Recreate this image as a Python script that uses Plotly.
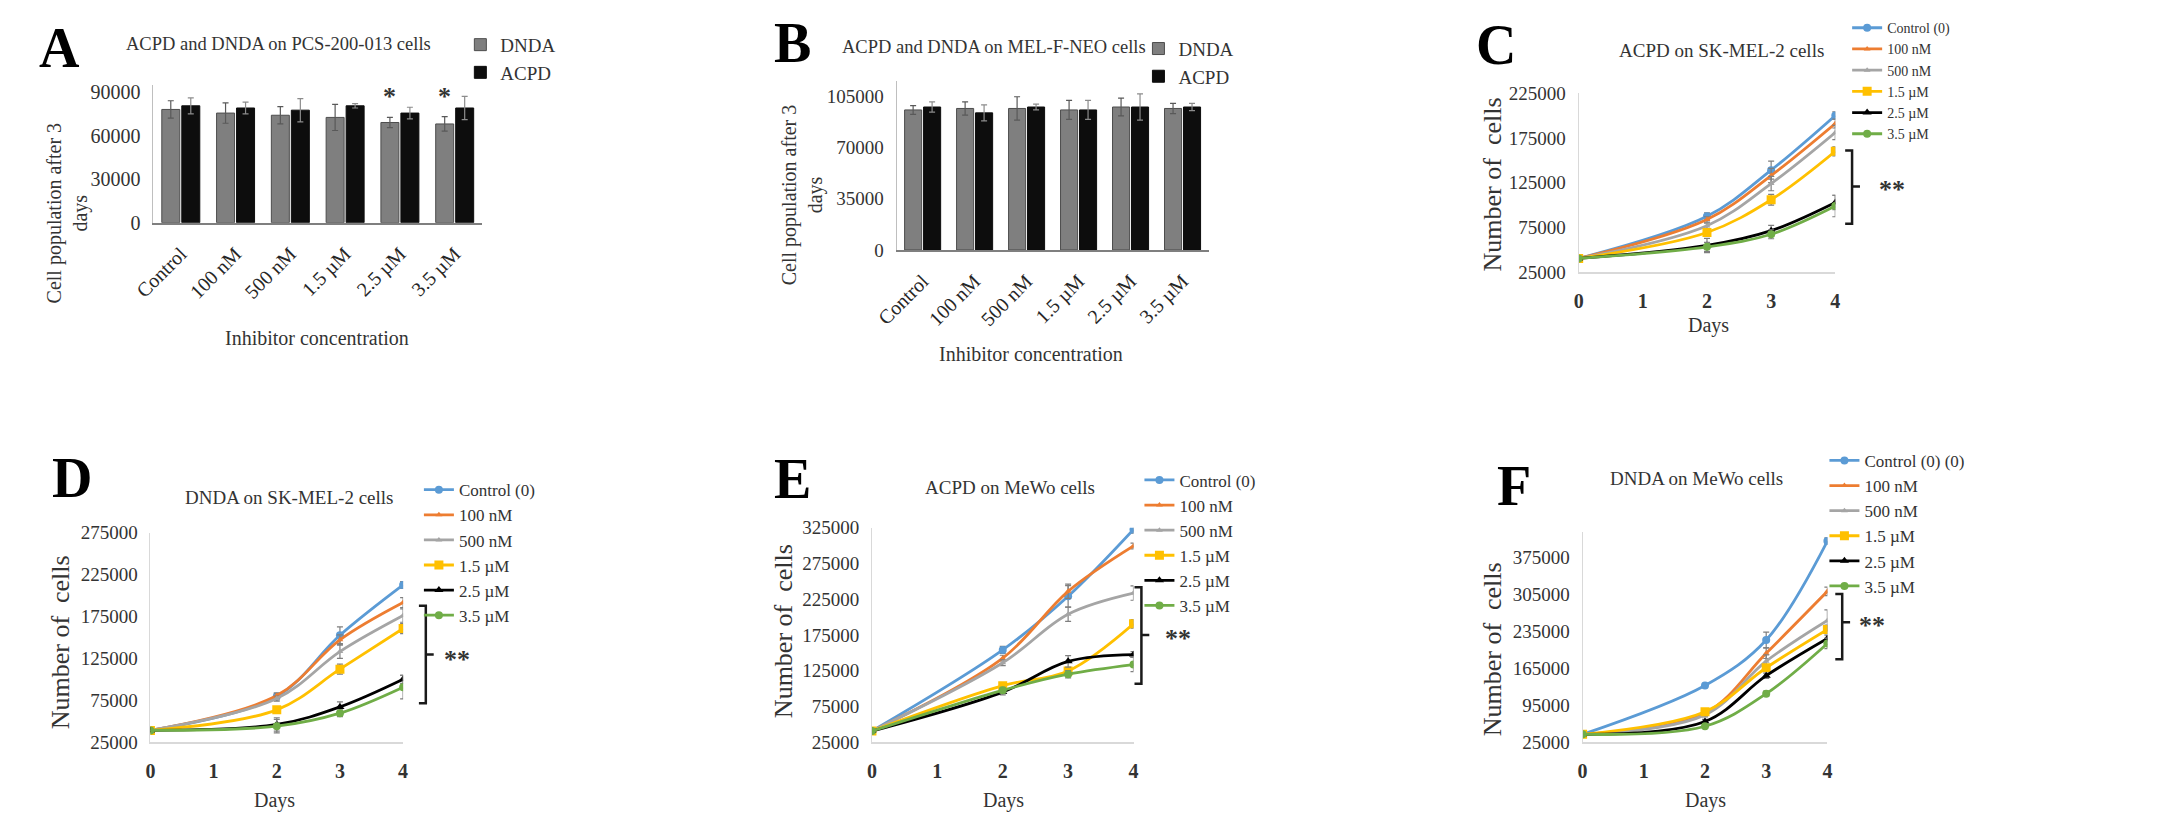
import plotly.graph_objects as go

W, H = 2159, 826
FONT = "Liberation Serif"
TXT = "#333333"

# ---------------- data ----------------
conc_labels = ["Control", "100 nM", "500 nM", "1.5 µM", "2.5 µM", "3.5 µM"]

a_dnda = [78000, 75500, 74000, 72500, 69000, 68000]
a_dnda_err = [6000, 7000, 6000, 9000, 3500, 5000]
a_acpd = [80500, 79000, 77500, 80500, 75500, 79000]
a_acpd_err = [5500, 4000, 8000, 1500, 4000, 8000]

b_dnda = [95500, 96500, 96500, 95500, 97500, 96500]
b_dnda_err = [3000, 4500, 8000, 6500, 6000, 3500]
b_acpd = [97500, 93500, 97500, 95500, 97500, 97500]
b_acpd_err = [3500, 5500, 2000, 6500, 9000, 2500]

days = [0, 2, 3, 4]
day_ticks = [0, 1, 2, 3, 4]
series_names = ["Control (0)", "100 nM", "500 nM", "1.5 µM", "2.5 µM", "3.5 µM"]

c_vals = [
    [40500, 87500, 139000, 200000],
    [40500, 84000, 133000, 191000],
    [40500, 77000, 124000, 181000],
    [40500, 69500, 106000, 160000],
    [40500, 55000, 71500, 103000],
    [40500, 53500, 67500, 99000],
]
c_err = [
    [0, 4000, 10000, 4000],
    [0, 3000, 8000, 5000],
    [0, 3000, 8000, 8000],
    [0, 4000, 6000, 5000],
    [0, 8000, 6000, 8000],
    [0, 5000, 5000, 12000],
]

d_vals = [
    [39000, 79500, 152500, 212500],
    [39000, 80500, 147000, 191500],
    [39000, 77000, 133000, 176000],
    [39000, 63500, 112000, 160500],
    [39000, 46000, 67000, 100000],
    [39000, 44000, 59500, 90500],
]
d_err = [
    [0, 4000, 10000, 4000],
    [0, 3000, 6000, 6000],
    [0, 3000, 8000, 8000],
    [0, 4000, 6000, 6000],
    [0, 8000, 6000, 5000],
    [0, 8000, 4000, 14000],
]

e_vals = [
    [40500, 154000, 229000, 322500],
    [40500, 142500, 236000, 299500],
    [40500, 136000, 204000, 233500],
    [40500, 104000, 124500, 190500],
    [40500, 95000, 138000, 147500],
    [40500, 97500, 120000, 133500],
]
e_err = [
    [0, 5000, 15000, 5000],
    [0, 4000, 10000, 4000],
    [0, 4000, 10000, 10000],
    [0, 4000, 4000, 6000],
    [0, 4000, 8000, 4000],
    [0, 4000, 5000, 10000],
]

f_vals = [
    [39700, 132000, 218000, 405000],
    [39700, 80000, 193000, 310000],
    [39700, 76500, 178000, 255000],
    [39700, 82500, 165500, 238000],
    [39700, 64000, 150500, 221000],
    [39700, 55000, 116500, 211500],
]
f_err = [
    [0, 4000, 15000, 6000],
    [0, 4000, 10000, 8000],
    [0, 4000, 12000, 20000],
    [0, 5000, 6000, 8000],
    [0, 4000, 5000, 6000],
    [0, 4000, 5000, 10000],
]

line_colors = ["#5B9BD5", "#ED7D31", "#A5A5A5", "#FFC000", "#000000", "#70AD47"]
line_symbols = ["circle", "triangle-up", "triangle-up", "square", "triangle-up", "circle"]
line_msizes = [8, 6, 6, 9, 8, 8]


def px(x):
    return x / W


def py(y):
    return 1 - y / H


fig = go.Figure()

# ---------------- bar panels ----------------
for (dn, dne, ac, ace, xa, ya, lg) in [
    (a_dnda, a_dnda_err, a_acpd, a_acpd_err, "x", "y", "legend"),
    (b_dnda, b_dnda_err, b_acpd, b_acpd_err, "x2", "y2", "legend2"),
]:
    fig.add_trace(go.Bar(
        x=conc_labels, y=dn, name="DNDA", xaxis=xa, yaxis=ya, legend=lg,
        legendgroup="dn" + xa,
        marker=dict(color="#7f7f7f", line=dict(color="#4d4d4d", width=1)),
        error_y=dict(type="data", array=dne, color="#595959", thickness=1.2, width=3),
    ))
    fig.add_trace(go.Bar(
        x=conc_labels, y=ac, name="ACPD", xaxis=xa, yaxis=ya, legend=lg,
        legendgroup="ac" + xa,
        marker=dict(color="#0d0d0d", line=dict(color="#0d0d0d", width=1)),
        error_y=dict(type="data", array=ace, color="#8c8c8c", thickness=1.2, width=3),
    ))

# ---------------- line panels ----------------
for vals, errs, xa, ya, lg in [
    (c_vals, c_err, "x3", "y3", "legend3"),
    (d_vals, d_err, "x4", "y4", "legend4"),
    (e_vals, e_err, "x5", "y5", "legend5"),
    (f_vals, f_err, "x6", "y6", "legend6"),
]:
    for i, name in enumerate(series_names):
        nm = name
        if lg == "legend6" and i == 0:
            nm = "Control (0) (0)"
        fig.add_trace(go.Scatter(
            x=days, y=vals[i], name=nm, xaxis=xa, yaxis=ya, legend=lg,
            mode="lines+markers",
            line=dict(color=line_colors[i], width=2.8, shape="spline", smoothing=1.0),
            marker=dict(symbol=line_symbols[i], size=line_msizes[i], color=line_colors[i]),
            error_y=dict(type="data", array=errs[i], color="#7f7f7f", thickness=1.2, width=3),
        ))


# ---------------- axes ----------------
def yaxis(dom_top, dom_bot, rng, tickvals, anchor, lc="#bfbfbf", size=19):
    return dict(domain=[py(dom_bot), py(dom_top)], range=rng, anchor=anchor,
                tickvals=tickvals, ticktext=[str(v) for v in tickvals],
                showgrid=False, zeroline=False, showline=True, linecolor=lc, linewidth=1,
                ticks="", tickfont=dict(family=FONT, size=size, color=TXT),
                ticklabelstandoff=8, fixedrange=True)


def xaxis_lin(x0, x1, anchor):
    return dict(domain=[px(x0), px(x1)], range=[0, 4], anchor=anchor,
                tickvals=day_ticks, ticktext=[f"<b>{d}</b>" for d in day_ticks],
                showgrid=False, zeroline=False,
                showline=True, linecolor="#d9d9d9", linewidth=1.5, ticks="",
                tickfont=dict(family=FONT, size=20, color=TXT), ticklabelstandoff=10)


def xaxis_cat(x0, x1, anchor):
    return dict(domain=[px(x0), px(x1)], anchor=anchor, type="category",
                showgrid=False, zeroline=False, showline=True, linecolor="#7f7f7f",
                linewidth=1.5, ticks="", tickangle=-45,
                tickfont=dict(family=FONT, size=20, color="#262626"), ticklabelstandoff=10)


fig.update_layout(
    xaxis=xaxis_cat(124, 457, "y"),
    yaxis=yaxis(68.5, 210, [0, 95000], [0, 30000, 60000, 90000], "x", size=20),
    xaxis2=xaxis_cat(877, 1193, "y2"),
    yaxis2=yaxis(65, 238, [0, 115000], [0, 35000, 70000, 105000], "x2"),
    xaxis3=xaxis_lin(1568, 1828, "y3"),
    yaxis3=yaxis(77, 261, [25000, 225000], [25000, 75000, 125000, 175000, 225000], "x3", lc="#d9d9d9"),
    xaxis4=xaxis_lin(121, 377, "y4"),
    yaxis4=yaxis(528, 743, [25000, 275000], [25000, 75000, 125000, 175000, 225000, 275000], "x4", lc="#d9d9d9"),
    xaxis5=xaxis_lin(852, 1117, "y5"),
    yaxis5=yaxis(523, 743, [25000, 325000], [25000, 75000, 125000, 175000, 225000, 275000, 325000], "x5", lc="#d9d9d9"),
    xaxis6=xaxis_lin(1572, 1820, "y6"),
    yaxis6=yaxis(527, 743, [25000, 422800], [25000, 95000, 165000, 235000, 305000, 375000], "x6", lc="#d9d9d9"),
)


def legend(x, y, size, gap=0):
    return dict(x=px(x), y=py(y), xanchor="left", yanchor="top", bgcolor="rgba(0,0,0,0)",
                font=dict(family=FONT, size=size, color=TXT), itemwidth=30,
                tracegroupgap=gap, traceorder="normal", borderwidth=0)


fig.update_layout(
    width=W, height=H, margin=dict(l=0, r=0, t=0, b=0),
    paper_bgcolor="white", plot_bgcolor="white",
    barmode="group", bargap=0.27, bargroupgap=0.1,
    showlegend=True,
    legend=legend(435, 8, 19, gap=18),
    legend2=legend(1122, 12, 19, gap=6),
    legend3=legend(1840, -6, 14),
    legend4=legend(393, 466, 17),
    legend5=legend(1123, 456, 17),
    legend6=legend(1817, 436, 17),
)

ann = []


def txt(x, y, t, size, angle=0, color=TXT):
    ann.append(dict(x=px(x), y=py(y), xref="paper", yref="paper", text=t, showarrow=False,
                    xanchor="center", yanchor="middle", textangle=angle,
                    font=dict(family=FONT, size=size, color=color)))


# panel letters
for (x, y, t) in [(29, 31, "A"), (772, 26, "B"), (1484, 28, "C"),
                  (42, 472, "D"), (771, 473, "E"), (1502, 480, "F")]:
    txt(x, y, "<b>" + t + "</b>", 56, color="#000000")

# panel titles
txt(251, 27, "ACPD and DNDA on PCS-200-013 cells", 18.5)
txt(976, 30, "ACPD and DNDA on MEL-F-NEO cells", 18.5)
txt(1713, 33, "ACPD on SK-MEL-2 cells", 19)
txt(261, 492, "DNDA on SK-MEL-2 cells", 19)
txt(992, 482, "ACPD on MeWo cells", 19)
txt(1687, 472, "DNDA on MeWo cells", 19)

# y titles
txt(37, 200, "Cell population after 3<br>days", 20, angle=-90)
txt(782, 181, "Cell population after 3<br>days", 20, angle=-90)
txt(1481, 171, "Number of  cells", 26, angle=-90)
txt(30, 641, "Number of  cells", 26, angle=-90)
txt(762, 629, "Number of  cells", 26, angle=-90)
txt(1481, 648, "Number of  cells", 26, angle=-90)

# x titles
txt(290, 328, "Inhibitor concentration", 20)
txt(1013, 345, "Inhibitor concentration", 20)
txt(1700, 316, "Days", 20)
txt(247, 803, "Days", 20)
txt(985, 803, "Days", 20)
txt(1696, 803, "Days", 20)

# single stars above DNDA bars (panel A)
for i in [4, 5]:
    ann.append(dict(x=conc_labels[i], y=a_dnda[i] + a_dnda_err[i], xref="x", yref="y",
                    text="<b>*</b>", showarrow=False, xshift=-10, yshift=4, yanchor="bottom",
                    font=dict(family=FONT, size=26, color=TXT)))

# brackets with **
shapes = []
for (bx, y0, y1, ym, sx, sy) in [(1845, 136, 211, 173, 1885, 176),
                                  (400, 603, 703, 653, 432, 658),
                                  (1125, 584, 683, 633, 1162, 637),
                                  (1835, 591, 658, 620, 1865, 623)]:
    path = (f"M {px(bx-7)},{py(y0)} L {px(bx)},{py(y0)} L {px(bx)},{py(y1)} L {px(bx-7)},{py(y1)} "
            f"M {px(bx)},{py(ym)} L {px(bx+8)},{py(ym)}")
    shapes.append(dict(type="path", path=path, xref="paper", yref="paper",
                       line=dict(color="#1a1a1a", width=2.5)))
    txt(sx, sy, "<b>**</b>", 26)

fig.update_layout(annotations=ann, shapes=shapes)

fig.write_html("out.html")
